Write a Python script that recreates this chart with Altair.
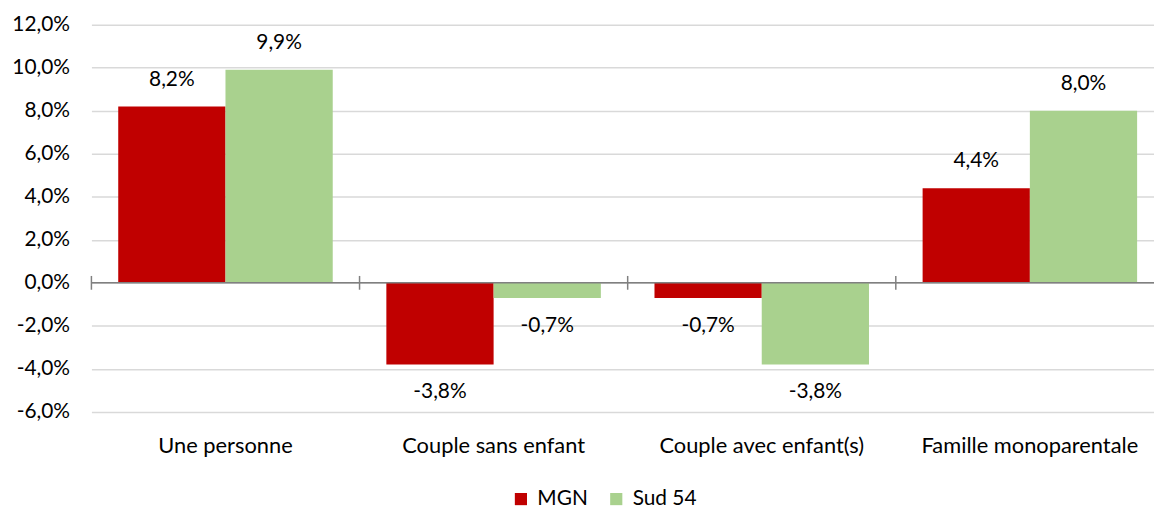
import altair as alt
import pandas as pd

categories = ["Une personne", "Couple sans enfant", "Couple avec enfant(s)", "Famille monoparentale"]
series = ["MGN", "Sud 54"]
mgn = [0.082, -0.038, -0.007, 0.044]
sud54 = [0.099, -0.007, -0.038, 0.080]
colors = ["#c00000", "#a9d18e"]
y_ticks = [-0.06, -0.04, -0.02, 0.0, 0.02, 0.04, 0.06, 0.08, 0.10, 0.12]
boundaries = [0, 1, 2, 3, 4]

rows = []
for i, c in enumerate(categories):
    rows.append({"cat": c, "serie": series[0], "v": mgn[i]})
    rows.append({"cat": c, "serie": series[1], "v": sud54[i]})
df = pd.DataFrame(rows)

FONT = "Lato"
xscale = alt.Scale(domain=categories, range=[0, 1080], paddingInner=0.2, paddingOuter=0.1)
yscale = alt.Scale(domain=[-0.06, 0.12], nice=False, zero=False)
offscale = alt.Scale(domain=series, paddingInner=0, paddingOuter=0)

x_enc = alt.X("cat:N", scale=xscale, sort=categories,
              axis=alt.Axis(title=None, labelAngle=0, domain=False, ticks=False, tickSize=0,
                            labelPadding=24, labelFontSize=22, labelFont=FONT, labelLimit=400,
                            labelColor="black", grid=False))
xo_enc = alt.XOffset("serie:N", scale=offscale, sort=series)
y_enc = alt.Y("v:Q", scale=yscale,
              axis=alt.Axis(title=None, values=y_ticks, domain=False, ticks=False, tickSize=0,
                            labelPadding=22, labelFontSize=21, labelFont=FONT, labelColor="black",
                            gridColor="#d9d9d9", gridWidth=1.5,
                            labelExpr="replace(replace(format(datum.value, '.1%'), '.', ','), '\u2212', '-')"))

base = alt.Chart(df)

bars = base.mark_bar().encode(
    x=x_enc, xOffset=xo_enc, y=y_enc,
    color=alt.Color("serie:N", scale=alt.Scale(domain=series, range=colors), sort=series,
                    legend=alt.Legend(title=None, orient="none", legendX=422, legendY=467,
                                      direction="horizontal", symbolType="square", symbolSize=150,
                                      symbolStrokeWidth=0, labelFontSize=21, labelFont=FONT,
                                      labelColor="black", columnPadding=18, labelOffset=6)),
)

lbl_expr = "replace(replace(format(datum.v, '.1%'), '.', ','), '\u2212', '-')"
pos_labels = base.transform_filter("datum.v >= 0").transform_calculate(lbl=lbl_expr).mark_text(
    dy=-27, fontSize=21, font=FONT, color="black", baseline="middle"
).encode(x=x_enc, xOffset=xo_enc, y=y_enc, text="lbl:N")

neg_labels = base.transform_filter("datum.v < 0").transform_calculate(lbl=lbl_expr).mark_text(
    dy=28, fontSize=21, font=FONT, color="black", baseline="middle"
).encode(x=x_enc, xOffset=xo_enc, y=y_enc, text="lbl:N")

zero_line = alt.Chart(pd.DataFrame({"v": [0.0]})).mark_rule(color="#808080", strokeWidth=1.5).encode(
    y=alt.Y("v:Q", scale=yscale)
)

main = alt.layer(bars, pos_labels, neg_labels, zero_line)

ticks = alt.Chart(pd.DataFrame({"b": boundaries})).mark_rule(color="#808080", strokeWidth=1.5).encode(
    x=alt.X("b:Q", scale=alt.Scale(domain=[0, 4], range=[0, 1080]), axis=None),
    y=alt.datum(0.0032),
    y2=alt.datum(-0.0032),
)

chart = alt.layer(main, ticks).resolve_scale(
    x="independent"
).properties(
    width=1070, height=390,
    autosize=alt.AutoSizeParams(type="none"),
    padding={"left": 84, "top": 15, "right": 0, "bottom": 100},
).configure_view(strokeWidth=0)

chart.save("out.html", embed_options={"renderer": "svg", "actions": False})
